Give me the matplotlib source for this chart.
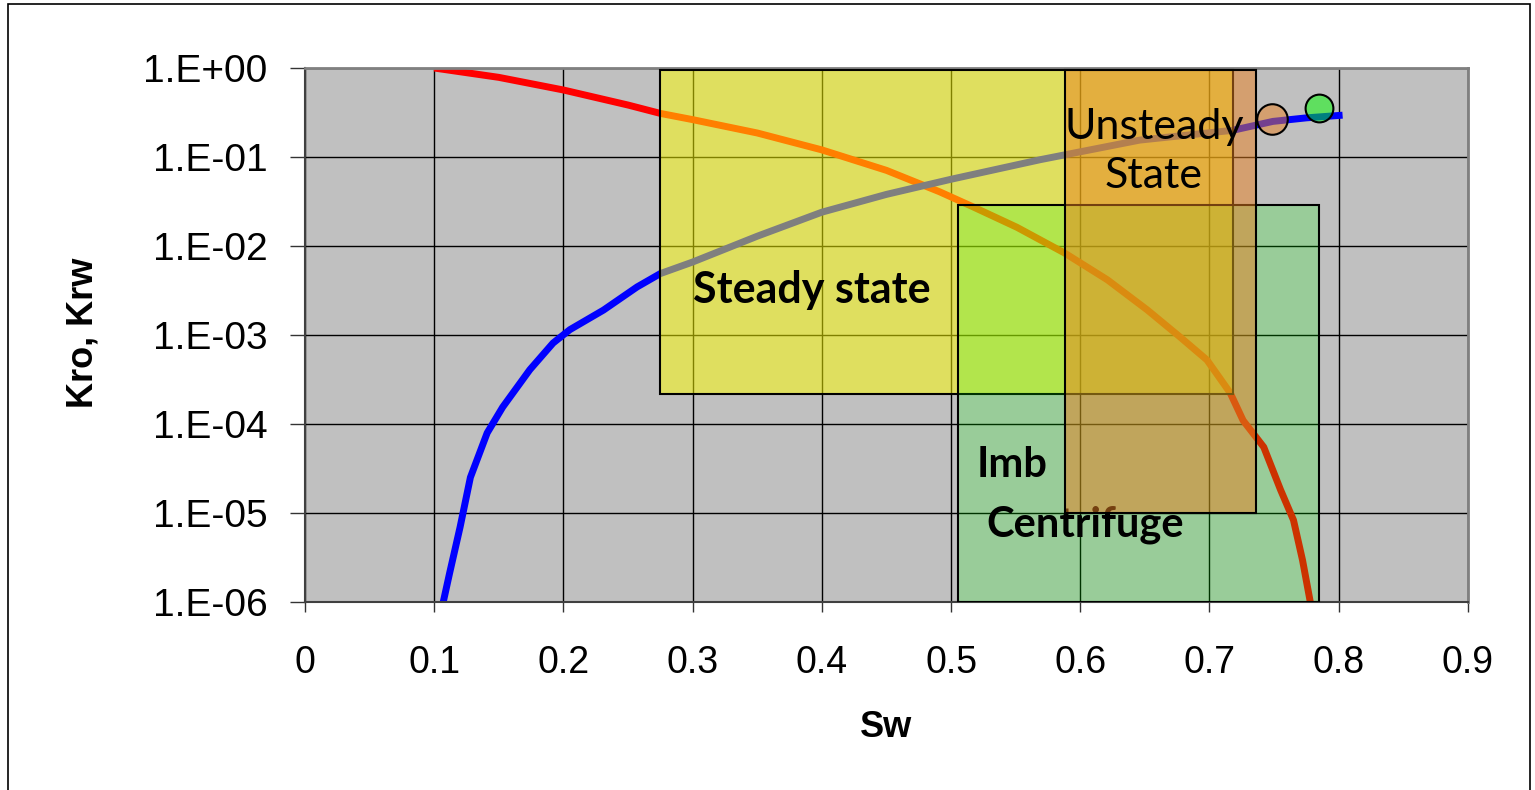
#Relative permeability curves (Kro, Krw) vs Sw with measurement method windows
#

import matplotlib.pyplot as plt
import matplotlib.patches as mpatches
import numpy as np

# Kro curve, y given as log10
sw_o = [0.100, 0.150, 0.200, 0.250, 0.275, 0.300, 0.350, 0.400, 0.450, 0.491, 0.517,
        0.551, 0.588, 0.621, 0.652, 0.677, 0.698, 0.716, 0.726, 0.742, 0.755, 0.765,
        0.772, 0.778]
lkro = [0.00, -0.105, -0.247, -0.416, -0.51, -0.58, -0.73, -0.92, -1.15, -1.39, -1.56,
        -1.79, -2.08, -2.38, -2.72, -3.02, -3.28, -3.65, -3.96, -4.26, -4.74, -5.08,
        -5.53, -6.0]

# Krw curve
sw_w = [0.107, 0.112, 0.120, 0.128, 0.141, 0.153, 0.174, 0.192, 0.205, 0.231, 0.257,
        0.275, 0.300, 0.350, 0.400, 0.450, 0.500, 0.569, 0.646, 0.718, 0.749, 0.775, 0.803]
lkrw = [-6.0, -5.67, -5.16, -4.60, -4.10, -3.81, -3.39, -3.09, -2.94, -2.72, -2.46,
        -2.31, -2.18, -1.89, -1.62, -1.42, -1.25, -1.03, -0.81, -0.70, -0.60, -0.56, -0.53]

kro = 10.0**np.array(lkro)
krw = 10.0**np.array(lkrw)

# method windows: (sw_min, sw_max, kr_min, kr_max)
steady = (0.275, 0.718, 2.2e-4, 0.95)
unsteady = (0.588, 0.736, 1.0e-5, 0.95)
centrif = (0.505, 0.785, 1.0e-6, 2.9e-2)

# end points
ep_orange = (0.748, 0.27)
ep_green = (0.785, 0.36)

yellow = (1.0, 1.0, 0.0, 0.5)
green = (0.0, 1.0, 0.0, 0.2)
orange = (232/255, 128/255, 32/255, 0.5)

fig = plt.figure(figsize=(15.35, 7.9), dpi=100)
ax = fig.add_axes([0.1987, 0.2380, 0.7576, 0.6759])
ax.set_facecolor('#c0c0c0')

ax.set_yscale('log')
ax.set_xlim(0, 0.9)
ax.set_ylim(1e-6, 1e0)

ax.grid(True, which='major', color='black', linewidth=1.0, zorder=0)
ax.set_axisbelow(True)

ax.plot(sw_o, kro, color='red', linewidth=5, zorder=2, solid_capstyle='butt')
ax.plot(sw_w, krw, color='blue', linewidth=5, zorder=2, solid_capstyle='butt')

def box(r, fc, z):
    x0, x1, y0, y1 = r
    p = mpatches.Rectangle((x0, y0), x1 - x0, y1 - y0, facecolor=fc,
                           edgecolor='black', linewidth=1.5, zorder=z)
    ax.add_patch(p)

box(steady, yellow, 3)
box(centrif, green, 4)

ax.text(0.392, 3.2e-3, 'Steady state', fontsize=31, fontweight='bold',
        family=['Lato', 'DejaVu Sans'], ha='center', va='center', zorder=5)
ax.text(0.520, 3.5e-5, 'Imb', fontsize=30, fontweight='bold',
        family=['Lato', 'DejaVu Sans'], ha='left', va='center', zorder=5)
ax.text(0.527, 7.4e-6, 'Centrifuge', fontsize=30, fontweight='bold',
        family=['Lato', 'DejaVu Sans'], ha='left', va='center', zorder=5)

box(unsteady, orange, 6)
ax.text(0.657, 0.115, 'Unsteady\nState', fontsize=31, family=['Lato', 'DejaVu Sans'],
        ha='center', va='center', linespacing=1.35, zorder=7)

ax.plot([ep_orange[0]], [ep_orange[1]], 'o', markersize=22, markerfacecolor=orange,
        markeredgecolor='black', markeredgewidth=1.5, zorder=8)
ax.plot([ep_green[0]], [ep_green[1]], 'o', markersize=20, markerfacecolor=(0.0, 1.0, 0.0, 0.5),
        markeredgecolor='black', markeredgewidth=1.5, zorder=8)

xt = [0, 0.1, 0.2, 0.3, 0.4, 0.5, 0.6, 0.7, 0.8, 0.9]
yt = [1e-6, 1e-5, 1e-4, 1e-3, 1e-2, 1e-1, 1e0]
ylab = ['1.E-06', '1.E-05', '1.E-04', '1.E-03', '1.E-02', '1.E-01', '1.E+00']
ax.set_xticks(xt)
ax.set_xticklabels(['0' if v == 0 else '%g' % v for v in xt])
ax.set_yticks(yt)
ax.set_yticklabels(ylab)
ax.minorticks_off()

ax.tick_params(axis='y', direction='out', length=11, width=1, pad=16, labelsize=28, color='#333333')
ax.tick_params(axis='x', direction='out', length=7, width=1, pad=24, labelsize=27, color='#333333')
for lab in ax.get_xticklabels() + ax.get_yticklabels():
    lab.set_family(['Liberation Sans', 'DejaVu Sans'])

for s in ['left', 'bottom']:
    ax.spines[s].set_color('#404040')
    ax.spines[s].set_linewidth(1.5)
for s in ['top', 'right']:
    ax.spines[s].set_color('#808080')
    ax.spines[s].set_linewidth(2)

ax.set_xlabel('Sw', fontsize=26, fontweight='bold', family=['Liberation Sans', 'DejaVu Sans'])
ax.xaxis.set_label_coords(0.5, -0.203)
ax.set_ylabel('Kro, Krw', fontsize=26, fontweight='bold', family=['Liberation Sans', 'DejaVu Sans'])
ax.yaxis.set_label_coords(-0.176, 0.504)

# frame around the whole picture
fig.patches.append(mpatches.Rectangle((0.0052, -0.01), 0.9915, 1.005, transform=fig.transFigure,
                                      fill=False, edgecolor='black', linewidth=1.2))

plt.savefig('out.png', dpi=100)
